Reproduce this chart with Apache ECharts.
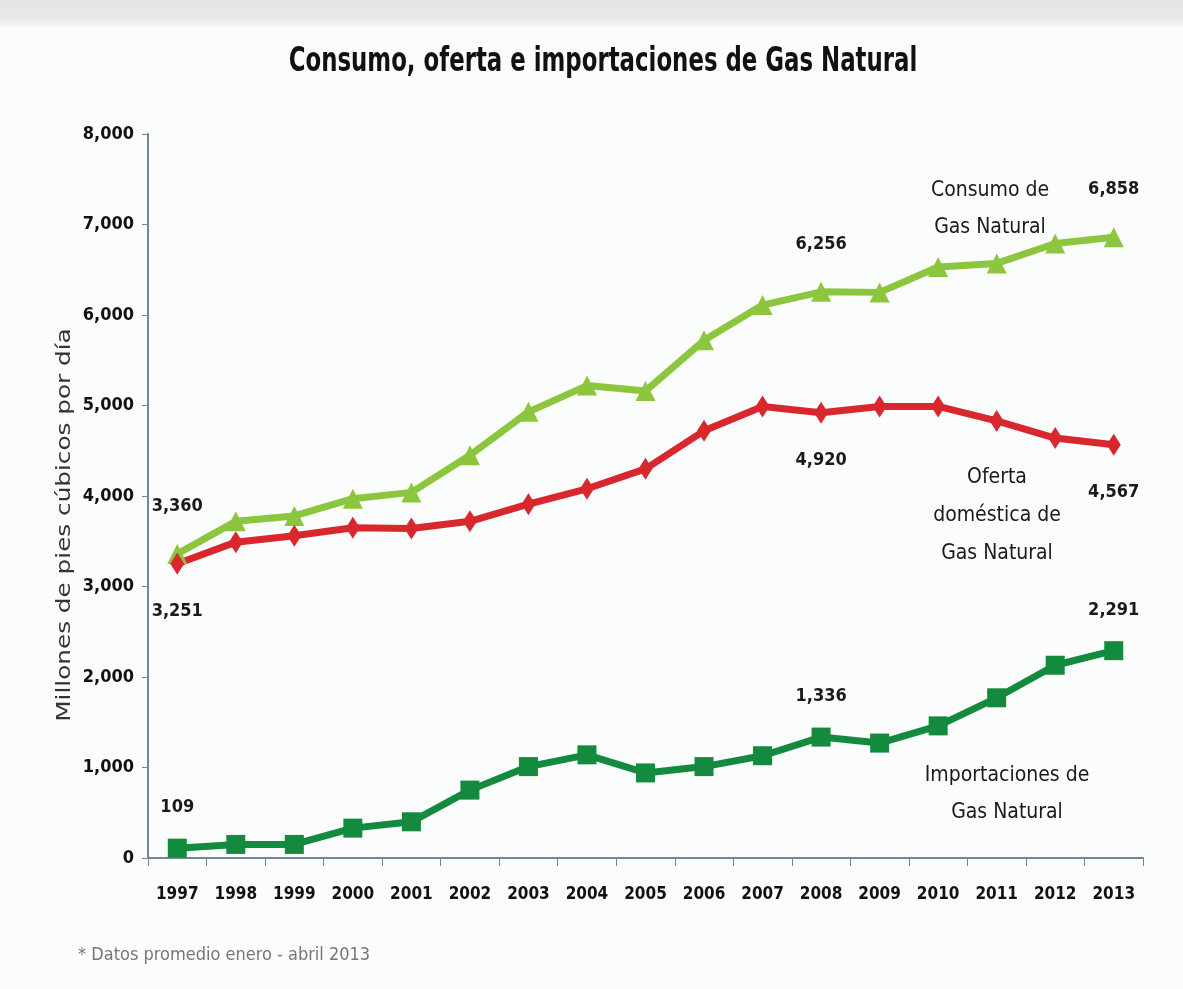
<!DOCTYPE html>
<html>
<head>
<meta charset="utf-8">
<script src="https://cdn.jsdelivr.net/npm/echarts@6/dist/echarts.min.js"></script>
<style>
  html, body { margin: 0; padding: 0; background: #fbfcfc; }
  #chart { width: 1183px; height: 989px; }
</style>
</head>
<body>
<div id="chart"></div>
<script>
// datos
var years = ["1997", "1998", "1999", "2000", "2001", "2002", "2003", "2004", "2005",
  "2006", "2007", "2008", "2009", "2010", "2011", "2012", "2013"]
var consumo = [3360, 3720, 3780, 3970, 4040, 4450, 4930, 5220, 5160, 5720, 6110, 6256, 6250, 6530, 6570, 6790, 6858]
var oferta = [3251, 3490, 3560, 3650, 3640, 3720, 3910, 4080, 4300, 4720, 4990, 4920, 4990, 4990, 4830, 4640, 4567]
var importaciones = [109, 150, 150, 330, 400, 750, 1010, 1140, 940, 1010, 1130, 1336, 1270, 1460, 1770, 2130, 2291]
var labeledYears = ["1997", "2008", "2013"]
var yTicks = [0, 1000, 2000, 3000, 4000, 5000, 6000, 7000, 8000]

var narrow = '"Liberation Sans Narrow", "DejaVu Sans Condensed", "Open Sans", sans-serif'

function fmt(v) {
  return v.toLocaleString("en-US")
}

function pointLabel(params) {
  return labeledYears.indexOf(params.name) >= 0 ? fmt(params.value) : ""
}

function makeSeries(name, data, color, symbol, size, pos, dist) {
  return {
    name: name,
    type: "line",
    data: data,
    symbol: symbol,
    symbolSize: size,
    lineStyle: { color: color, width: 7 },
    itemStyle: { color: color },
    label: {
      show: true,
      position: pos,
      distance: dist,
      formatter: pointLabel,
      fontFamily: narrow,
      fontSize: 18,
      fontWeight: "bold",
      color: "#1a1a1a"
    },
    animation: false
  }
}

var chart = echarts.init(document.getElementById("chart"))
chart.setOption({
  backgroundColor: "#fbfcfc",
  graphic: [
    {
      type: "rect",
      left: 0, top: 0,
      shape: { width: 1183, height: 28 },
      style: {
        fill: new echarts.graphic.LinearGradient(0, 0, 0, 1, [
          { offset: 0, color: "#e4e4e4" },
          { offset: 0.7, color: "#e8e8e8" },
          { offset: 1, color: "#fbfcfc" }
        ])
      }
    },
    {
      type: "text", x: 603, y: 62, scaleX: 0.77,
      style: {
        text: "Consumo, oferta e importaciones de Gas Natural",
        align: "center", verticalAlign: "middle",
        fontFamily: narrow, fontSize: 33, fontWeight: "bold", fill: "#111"
      }
    },
    {
      type: "text", x: 65, y: 525, rotation: Math.PI / 2, scaleX: 1.3,
      style: {
        text: "Millones de pies cúbicos por día",
        align: "center", verticalAlign: "middle",
        fontFamily: "DejaVu Sans, sans-serif", fontSize: 19, fill: "#333"
      }
    },
    {
      type: "text", left: 78, top: 946,
      style: { text: "* Datos promedio enero - abril 2013", fontFamily: narrow, fontSize: 18, fill: "#777" }
    },
    {
      type: "text", x: 990, y: 172,
      style: { text: "Consumo de\nGas Natural", align: "center", lineHeight: 37, fontFamily: narrow, fontSize: 21, fill: "#1a1a1a" }
    },
    {
      type: "text", x: 997, y: 459,
      style: { text: "Oferta\ndoméstica de\nGas Natural", align: "center", lineHeight: 38, fontFamily: narrow, fontSize: 21, fill: "#1a1a1a" }
    },
    {
      type: "text", x: 1007, y: 757,
      style: { text: "Importaciones de\nGas Natural", align: "center", lineHeight: 37, fontFamily: narrow, fontSize: 21, fill: "#1a1a1a" }
    }
  ],
  grid: { left: 148, right: 40, top: 134, bottom: 131 },
  xAxis: {
    type: "category",
    data: years,
    boundaryGap: true,
    axisLine: { lineStyle: { color: "#6f8796", width: 2 } },
    axisTick: { show: true, interval: 0, length: 8, lineStyle: { color: "#6f8796" } },
    axisLabel: { interval: 0, fontFamily: narrow, fontSize: 17, fontWeight: "bold", color: "#111", margin: 28 }
  },
  yAxis: {
    type: "value",
    min: 0,
    max: 8000,
    interval: 1000,
    splitLine: { show: false },
    axisLine: { show: true, lineStyle: { color: "#6f8796", width: 2 } },
    axisTick: { show: true, length: 6, lineStyle: { color: "#6f8796" } },
    axisLabel: {
      fontFamily: narrow, fontSize: 18, fontWeight: "bold", color: "#111", margin: 14,
      formatter: function (v) { return yTicks.indexOf(v) >= 0 ? fmt(v) : "" }
    }
  },
  series: [
    makeSeries("Consumo de Gas Natural", consumo, "#8cc63e", "triangle", 20, "top", 29),
    makeSeries("Oferta doméstica de Gas Natural", oferta, "#d9272e", "diamond", [14, 22], "bottom", 28),
    makeSeries("Importaciones de Gas Natural", importaciones, "#138a3e", "rect", 19, "top", 22)
  ]
})
</script>
</body>
</html>
